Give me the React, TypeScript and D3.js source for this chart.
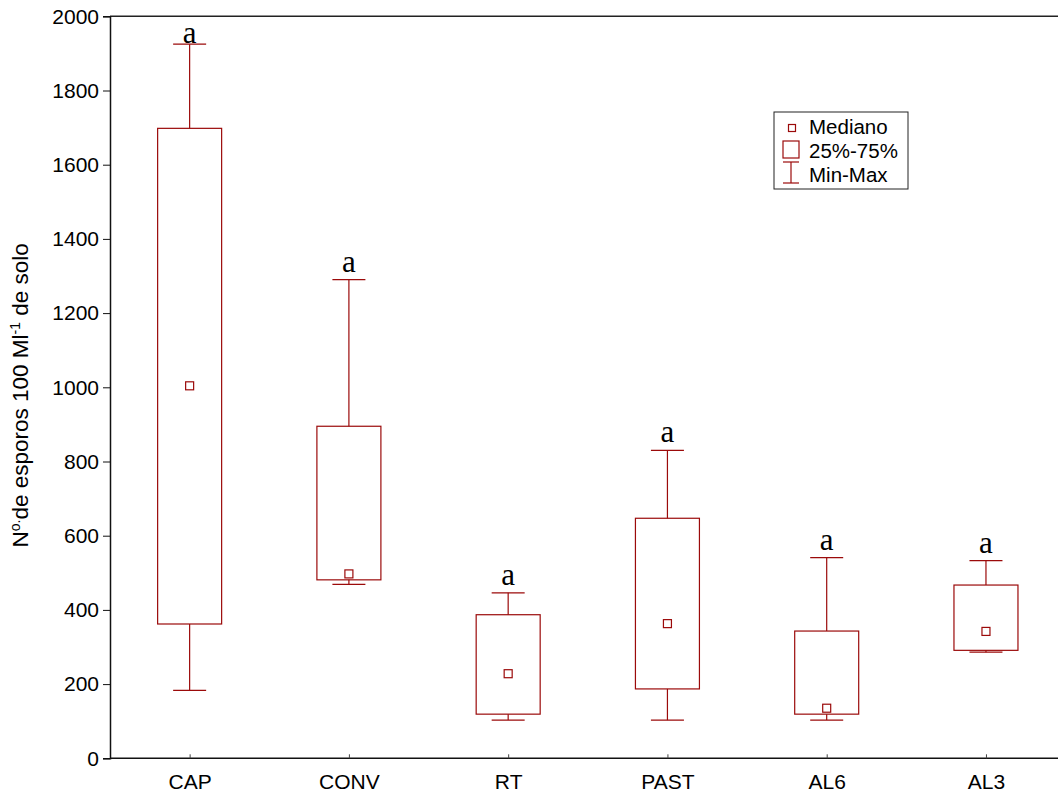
import { useEffect, useRef } from 'react';
import * as d3 from 'd3';

const CATEGORIES = ['CAP', 'CONV', 'RT', 'PAST', 'AL6', 'AL3'];
const MINS = [183, 469, 103, 103, 103, 286];
const Q1S = [362, 481, 119, 187, 119, 291];
const MEDIANS = [1004, 497, 228, 363, 135, 342];
const Q3S = [1698, 895, 387, 647, 343, 467];
const MAXS = [1925, 1290, 446, 830, 541, 533];
const LETTERS = ['a', 'a', 'a', 'a', 'a', 'a'];
const Y_TICKS = [0, 200, 400, 600, 800, 1000, 1200, 1400, 1600, 1800, 2000];

const RED = '#9b0a0a';
const SANS = "'Liberation Sans', Arial, sans-serif";
const SERIF = "'Liberation Serif', 'Times New Roman', serif";

export default function App() {
  const svgRef = useRef<SVGSVGElement>(null);

  useEffect(() => {
    const el = svgRef.current;
    if (!el) return;
    const svg = d3.select(el);
    svg.selectAll('*').remove();

    const W = 1058;
    const H = 797;
    const left = 110;
    const top = 16.3;
    const bottom = 758.3;
    const right = 1065.6;

    const x = d3.scalePoint<string>().domain(CATEGORIES).range([left, right]).padding(0.5);
    const y = d3.scaleLinear().domain([0, 2000]).range([bottom, top]);

    svg.append('rect').attr('width', W).attr('height', H).attr('fill', '#fff');

    // frame: top, left, bottom (plot runs off the right edge)
    svg.append('line').attr('x1', left).attr('x2', W).attr('y1', top).attr('y2', top)
      .attr('stroke', '#222').attr('stroke-width', 1.5);

    const yAxis = svg.append('g').attr('transform', `translate(${left},0)`)
      .call(d3.axisLeft(y).tickValues(Y_TICKS).tickSize(7).tickPadding(4).tickFormat(d3.format('d')));
    yAxis.select('.domain').attr('stroke', '#111').attr('stroke-width', 1.5);
    yAxis.selectAll('.tick line').attr('stroke', '#111');
    yAxis.selectAll('.tick text').attr('font-size', '21px').attr('font-family', SANS).attr('fill', '#000');

    const xAxis = svg.append('g').attr('transform', `translate(0,${bottom})`)
      .call(d3.axisBottom(x).tickSize(-4).tickPadding(16));
    xAxis.select('.domain').attr('stroke', '#111').attr('stroke-width', 1.5).attr('d', `M${left},0H${W}`);
    xAxis.selectAll('.tick line').attr('stroke', '#444');
    xAxis.selectAll('.tick text').attr('font-size', '21px').attr('font-family', SANS).attr('fill', '#000');

    const boxW = 64;
    const capW = 33;
    const g = svg.append('g');
    CATEGORIES.forEach((c, i) => {
      const cx = x(c) as number;
      // whiskers
      g.append('line').attr('x1', cx).attr('x2', cx).attr('y1', y(MAXS[i])).attr('y2', y(Q3S[i]))
        .attr('stroke', RED).attr('stroke-width', 1.2);
      g.append('line').attr('x1', cx).attr('x2', cx).attr('y1', y(Q1S[i])).attr('y2', y(MINS[i]))
        .attr('stroke', RED).attr('stroke-width', 1.2);
      g.append('line').attr('x1', cx - capW / 2).attr('x2', cx + capW / 2).attr('y1', y(MAXS[i])).attr('y2', y(MAXS[i]))
        .attr('stroke', RED).attr('stroke-width', 1.2);
      g.append('line').attr('x1', cx - capW / 2).attr('x2', cx + capW / 2).attr('y1', y(MINS[i])).attr('y2', y(MINS[i]))
        .attr('stroke', RED).attr('stroke-width', 1.2);
      // box
      g.append('rect').attr('x', cx - boxW / 2).attr('y', y(Q3S[i])).attr('width', boxW)
        .attr('height', y(Q1S[i]) - y(Q3S[i])).attr('fill', 'none').attr('stroke', RED).attr('stroke-width', 1.2);
      // median
      g.append('rect').attr('x', cx - 4).attr('y', y(MEDIANS[i]) - 4).attr('width', 8).attr('height', 8)
        .attr('fill', '#fff').attr('stroke', RED).attr('stroke-width', 1.2);
      // letter
      const ly = Math.max(y(MAXS[i]) - 8, 43);
      g.append('text').attr('x', cx).attr('y', ly).attr('text-anchor', 'middle')
        .attr('font-family', SERIF).attr('font-size', '31px').attr('fill', '#000').text(LETTERS[i]);
    });

    // y-axis title
    const t = svg.append('text').attr('transform', `translate(28,${(top + bottom) / 2 + 8}) rotate(-90)`)
      .attr('text-anchor', 'middle').attr('font-family', SANS).attr('font-size', '22.5px').attr('fill', '#000');
    t.append('tspan').text('N');
    t.append('tspan').attr('font-size', '14px').attr('dy', -8).text('o.');
    t.append('tspan').attr('dy', 8).text('de esporos 100 Ml');
    t.append('tspan').attr('font-size', '14px').attr('dy', -8).text('-1');
    t.append('tspan').attr('dy', 8).text(' de solo');

    // legend
    const lg = svg.append('g');
    lg.append('rect').attr('x', 774).attr('y', 112).attr('width', 134).attr('height', 77)
      .attr('fill', '#fff').attr('stroke', '#222').attr('stroke-width', 1);
    lg.append('rect').attr('x', 788.5).attr('y', 124.5).attr('width', 7).attr('height', 7)
      .attr('fill', '#fff').attr('stroke', RED).attr('stroke-width', 1.2);
    lg.append('rect').attr('x', 783).attr('y', 141).attr('width', 16).attr('height', 17)
      .attr('fill', '#fff').attr('stroke', RED).attr('stroke-width', 1.2);
    lg.append('line').attr('x1', 791).attr('x2', 791).attr('y1', 162).attr('y2', 183).attr('stroke', RED).attr('stroke-width', 1.2);
    lg.append('line').attr('x1', 783).attr('x2', 799).attr('y1', 162).attr('y2', 162).attr('stroke', RED).attr('stroke-width', 1.2);
    lg.append('line').attr('x1', 783).attr('x2', 799).attr('y1', 183).attr('y2', 183).attr('stroke', RED).attr('stroke-width', 1.2);
    const items = ['Mediano', '25%-75%', 'Min-Max'];
    items.forEach((s, i) => {
      lg.append('text').attr('x', 809).attr('y', 134 + i * 24).attr('font-family', SANS).attr('font-size', '20.5px')
        .attr('fill', '#000').text(s);
    });
  }, []);

  return (
    <svg ref={svgRef} width={1058} height={797}
      style={{ position: 'absolute', left: 0, top: 0, display: 'block' }} />
  );
}
